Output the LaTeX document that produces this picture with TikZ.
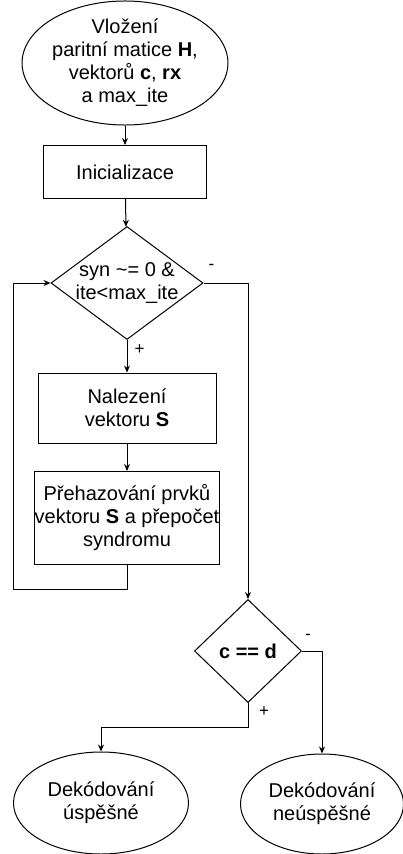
\documentclass[tikz,border=0pt]{standalone}
\usepackage{fontspec}
\setmainfont{Liberation Sans}
\usepackage{tikz}
\usetikzlibrary{calc,positioning,arrows,shapes}
\usetikzlibrary{arrows.meta}
\tikzstyle{startstop} = [ellipse, draw=black, line width=1pt, inner sep=0pt, align=center]
\tikzstyle{process}   = [rectangle, draw=black, line width=1pt, inner sep=0pt, align=center]
\tikzstyle{decision}  = [diamond, draw=black, line width=1pt, inner sep=-12pt, align=center]
\tikzstyle{arrow}     = [line width=1pt,-{Stealth[length=7pt,width=6pt]}]
\tikzstyle{sign}      = [font=\fontsize{17}{17}\selectfont, inner sep=1pt]

\begin{document}
\begin{tikzpicture}[x=1pt, y=-1pt, every node/.append style={font=\fontsize{20}{23}\selectfont}]
		\useasboundingbox (0,0) rectangle (403,854);
		\clip (0,0) rectangle (403,854);

		\node[startstop, minimum width=161pt, minimum height=120pt] (vstup) at (125,63) {Vložení\\paritní matice \textbf{H},\\vektorů \textbf{c}, \textbf{rx}\\a max\_ite};
		\node[process, minimum width=163pt, minimum height=53pt] (init) at (125,172) {Inicializace};
		\node[decision, minimum width=152pt, minimum height=113pt] (cyklus) at (127,283) {syn \textasciitilde= 0 \&\\ite<max\_ite};
		\node[process, minimum width=178pt, minimum height=70pt] (nalez) at (127,408) {Nalezení\\vektoru \textbf{S}};
		\node[process, minimum width=185pt, minimum height=93pt] (prehoz) at (127,518) {Přehazování prvků\\vektoru \textbf{S} a přepočet\\syndromu};
		\node[decision, minimum width=107pt, minimum height=103pt] (shoda) at (248,651) {\textbf{c == d}};
		\node[startstop, minimum width=175pt, minimum height=102pt] (uspech) at (101,803) {Dekódování\\úspěšné};
		\node[startstop, minimum width=163pt, minimum height=100pt] (neuspech) at (322,804) {Dekódování\\neúspěšné};

		\coordinate (zpet) at (13,589);

		\draw[arrow] (vstup) -- (init);
		\draw[arrow] (init) -- (cyklus);
		\draw[arrow] (cyklus.south) -- node[sign, pos=0.3, right=6pt] {+} (nalez.north);
		\draw[arrow] (nalez) -- (prehoz);
		\draw[arrow] (prehoz.south) |- (zpet) |- (cyklus.west);
		\draw[arrow] (cyklus.east) -| (shoda.north);
		\draw (cyklus.east) node[sign, above right=12pt and 4pt] {-};
		\draw[arrow] (shoda.east) -| (neuspech.north);
		\draw (shoda.east) node[sign, above right=10pt and 2pt] {-};
		\draw[arrow] (shoda.south) -- ++(0,24) -| (uspech.north);
		\draw (shoda.south) node[sign, below right=2pt and 10pt] {+};
	\end{tikzpicture}
\end{document}
